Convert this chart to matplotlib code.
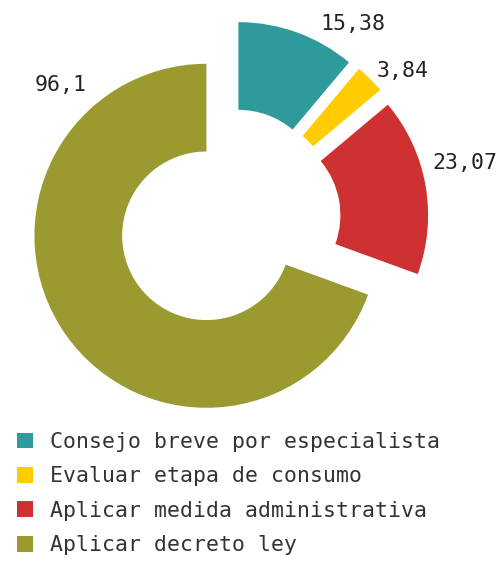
import numpy as np
import matplotlib
matplotlib.use('Agg')
import matplotlib.pyplot as plt

plt.rcParams['font.family'] = ['DejaVu Sans Mono']

# data
categories = ['Consejo breve por especialista', 'Evaluar etapa de consumo',
              'Aplicar medida administrativa', 'Aplicar decreto ley']
values = [15.38, 3.84, 23.07, 96.1]
value_labels = ['15,38', '3,84', '23,07', '96,1']
colors = ['#2E9A9C', '#FFCC00', '#CF3133', '#9A9A30']

# where each value label sits (angle clockwise from top, distance in radii)
label_angle = [34, 50, 76, 316]
label_dist = [1.19, 1.17, 1.25, 1.22]

W, H = 501, 562
fig = plt.figure(figsize=(W / 100, H / 100), dpi=100)
ax = fig.add_axes([0, 0, 1, 1])

R = 172.0
cx, cy = 229, H - 220
# pie's explode is in data units, not a fraction of the radius
expl = [0.16 * R] * len(values)

wedges, _ = ax.pie(values, colors=colors, radius=R, center=(cx, cy),
                   startangle=90, counterclock=False, explode=expl,
                   wedgeprops=dict(width=R * 0.51, linewidth=0))
ax.set_xlim(0, W)
ax.set_ylim(0, H)
ax.set_aspect('equal')
ax.axis('off')

for w, lab, a, d in zip(wedges, value_labels, label_angle, label_dist):
    wx, wy = w.center
    t = np.deg2rad(a)
    ax.text(wx + d * R * np.sin(t), wy + d * R * np.cos(t), lab,
            ha='center', va='center', fontsize=15.5, color='#222222')

leg = ax.legend(wedges, categories, loc='upper left',
                bbox_to_anchor=(17, H - 432), bbox_transform=ax.transData,
                frameon=False, fontsize=15.5, handlelength=0.75, handleheight=0.75,
                handletextpad=0.8, labelspacing=0.67, borderpad=0, borderaxespad=0)
for t in leg.get_texts():
    t.set_color('#333333')

fig.savefig('out.png', dpi=100)
